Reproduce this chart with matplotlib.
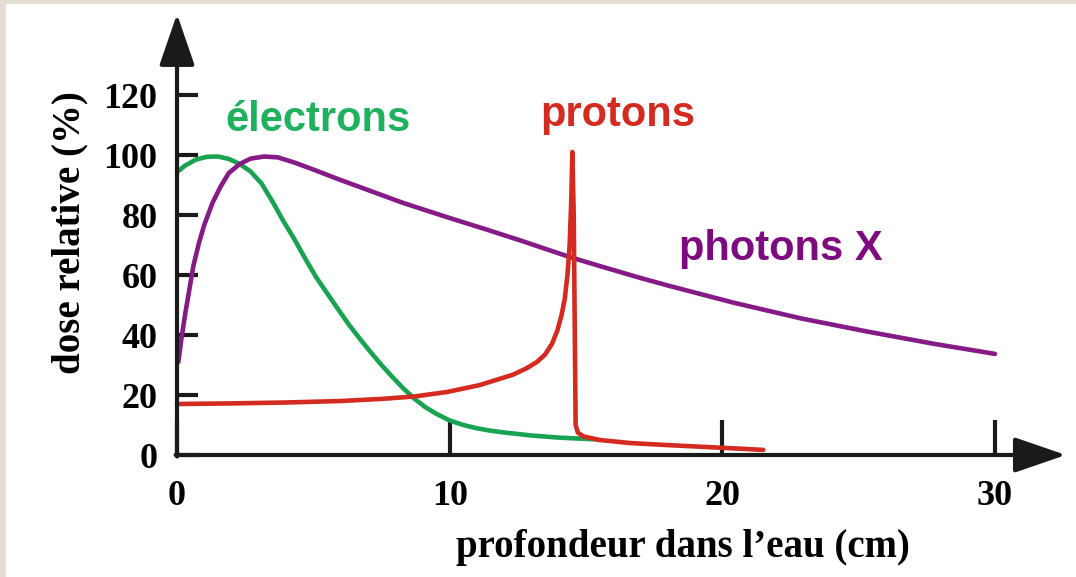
import matplotlib.pyplot as plt
from matplotlib.patches import Rectangle

# === Données ===
electrons_x = [0, 0.3, 0.7, 1.1, 1.5, 1.9, 2.3, 2.7, 3.1, 3.5, 3.9, 4.3, 4.7, 5.1,
               5.5, 5.9, 6.3, 6.7, 7.1, 7.5, 7.9, 8.3, 8.7, 9.1, 9.5, 10, 10.5, 11,
               11.5, 12, 13, 14, 15.4]
electrons_y = [94.3, 96.5, 98.5, 99.4, 99.5, 98.7, 97, 94.5, 90.5, 84.5, 78, 72, 65.5, 59.3,
               54, 48.7, 43.5, 38.8, 34.3, 30, 26, 22.2, 18.8, 16, 13.8, 11.5, 10, 8.9,
               8.1, 7.5, 6.5, 5.8, 5.2]

photons_x = [0.05, 0.15, 0.3, 0.45, 0.6, 0.8, 1.0, 1.3, 1.6, 1.9, 2.3, 2.7, 3.2, 3.7,
             4.3, 4.9, 5.9, 7.1, 8.3, 10, 11.3, 12.6, 14.4, 15.5, 17, 18, 20.4, 22.9,
             25.4, 27.8, 30]
photons_y = [31, 38, 47, 55, 63, 70.5, 76.7, 84, 89.5, 94, 97, 98.8, 99.5, 99.2,
             97.5, 95.5, 92, 88, 84, 79, 75.3, 71.5, 66, 63, 59, 56.5, 50.8, 45.5,
             41, 37, 33.7]

protons_x = [0, 2, 4, 6, 7.5, 8.7, 9.9, 11.1, 12.3, 12.8, 13.2, 13.5, 13.75, 13.95,
             14.1, 14.22, 14.32, 14.4, 14.46, 14.5, 14.55, 14.59, 14.62, 14.7, 14.9,
             15.5, 16.6, 18, 20, 21.5]
protons_y = [17, 17.2, 17.5, 18, 18.7, 19.5, 21, 23.3, 26.7, 28.8, 31, 33.5, 37, 41.5,
             46.5, 52, 60, 70, 85, 101, 80, 40, 10, 7.5, 6.2, 5, 4, 3.3, 2.4, 1.7]

x_ticks = [0, 10, 20, 30]
y_ticks = [0, 20, 40, 60, 80, 100, 120]

GREEN = "#17a34f"
RED = "#d42a20"
PURPLE = "#861a86"
AXIS = "#1a1a1a"

W, H = 1076, 577
fig = plt.figure(figsize=(W / 100, H / 100), dpi=100, facecolor="#e4ddd2")
fig.patches.append(Rectangle((6 / W, 0), 1, (H - 4) / H, transform=fig.transFigure,
                             color="white", zorder=-10))

# axes: x=0 -> px 177, x=30 -> px 995 ; y=0 -> px 455, y=120 -> px 95
ax = fig.add_axes([177 / W, (H - 455) / H, (995 - 177) / W, 360 / H])
ax.set_xlim(0, 30)
ax.set_ylim(0, 120)
ax.patch.set_alpha(0)
for s in ax.spines.values():
    s.set_visible(False)

style = dict(lw=3.3, solid_capstyle="round", solid_joinstyle="round", clip_on=False)
ax.plot(electrons_x, electrons_y, color=GREEN, **style)
ax.plot(photons_x, photons_y, color=PURPLE, **style)
ax.plot(protons_x, protons_y, color=RED, **style)

# axes avec flèches
arrow = dict(arrowstyle="-|>,head_length=3.2,head_width=1.1", mutation_scale=10,
             lw=3, color=AXIS, shrinkA=0, shrinkB=0)
ax.annotate("", xy=(32.6, 0), xytext=(-0.05, 0), arrowprops=arrow, annotation_clip=False)
ax.annotate("", xy=(0, 147), xytext=(0, -0.5), arrowprops=arrow, annotation_clip=False)

serif = dict(family="Liberation Serif", weight="bold")
ax.set_xticks(x_ticks)
ax.set_yticks(y_ticks)
ax.set_xticklabels([str(v) for v in x_ticks], fontsize=26, **serif)
ax.set_yticklabels([str(v) for v in y_ticks], fontsize=26, **serif)
ax.tick_params(axis="x", direction="in", length=25, width=3, color=AXIS, pad=18)
ax.tick_params(axis="y", direction="in", length=15, width=3, color=AXIS, pad=14)

fig.text(70 / W, 1 - 233 / H, "dose relative (%)", rotation=90, ha="center", va="center",
         fontsize=28, **serif)
fig.text(683 / W, 1 - 547 / H, "profondeur dans l\u2019eau (cm)", ha="center", va="center",
         fontsize=28, **serif)

sans = dict(family="Liberation Sans", weight="bold", fontsize=30, ha="center", va="center")
ax.text(5.17, 111.7, "électrons", color="#1fb25e", **sans)
ax.text(16.17, 113.3, "protons", color=RED, **sans)
ax.text(22.15, 68.7, "photons X", color="#7e0a80", **sans)

fig.savefig("out.png", dpi=100, facecolor=fig.get_facecolor())
